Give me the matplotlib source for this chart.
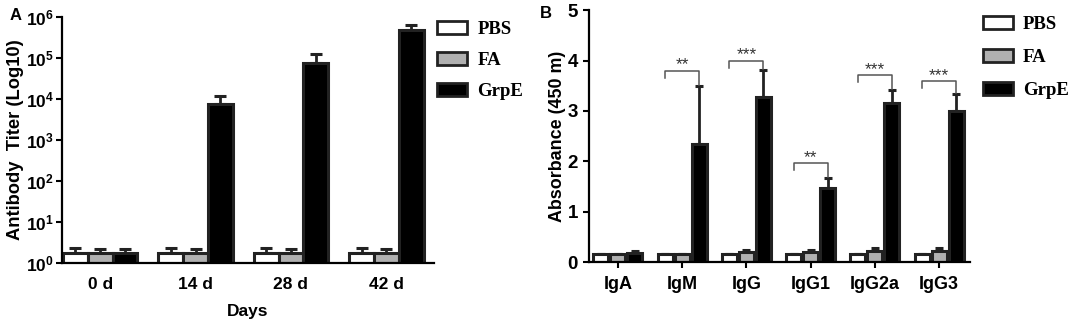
import numpy as np
import matplotlib
matplotlib.use("Agg")
import matplotlib.pyplot as plt
from matplotlib.patches import Patch

plt.rcParams['font.family'] = ['Liberation Sans', 'DejaVu Sans']
plt.rcParams['font.weight'] = 'bold'

groups = ['PBS', 'FA', 'GrpE']
colors = ['white', '#b0b0b0', 'black']

# Panel A
days = ['0 d', '14 d', '28 d', '42 d']
titer_pbs = [1.8, 1.8, 1.8, 1.8]
titer_pbs_err = [0.5, 0.5, 0.5, 0.5]
titer_fa = [1.8, 1.8, 1.8, 1.8]
titer_fa_err = [0.45, 0.45, 0.45, 0.45]
titer_grpe = [1.8, 7600, 74000, 480000]
titer_grpe_err = [0.45, 4300, 50000, 165000]

# Panel B
isotypes = ['IgA', 'IgM', 'IgG', 'IgG1', 'IgG2a', 'IgG3']
abs_pbs = [0.16, 0.16, 0.16, 0.16, 0.16, 0.16]
abs_pbs_err = [0.01, 0.01, 0.01, 0.01, 0.01, 0.01]
abs_fa = [0.16, 0.16, 0.2, 0.2, 0.22, 0.22]
abs_fa_err = [0.01, 0.01, 0.05, 0.05, 0.06, 0.06]
abs_grpe = [0.18, 2.35, 3.27, 1.48, 3.15, 3.0]
abs_grpe_err = [0.04, 1.15, 0.55, 0.19, 0.27, 0.33]
sig_labels = ['', '**', '***', '**', '***', '***']
sig_heights = [0, 3.8, 4.0, 1.97, 3.72, 3.6]

fig = plt.figure(figsize=(10.74, 3.26), dpi=100)

legend_prop = {'family': 'Liberation Serif', 'weight': 'bold', 'size': 13.5}
handles = [Patch(facecolor=c, edgecolor='#222222', linewidth=2) for c in colors]

# ---------- Panel A ----------
axA = fig.add_axes([0.0577, 0.193, 0.3464, 0.755])
xA = np.arange(len(days))
wA = 0.26
for i, (vals, errs) in enumerate([(titer_pbs, titer_pbs_err), (titer_fa, titer_fa_err), (titer_grpe, titer_grpe_err)]):
    pos = xA + (i - 1) * wA
    axA.bar(pos, vals, width=wA, color=colors[i], edgecolor='#222222', linewidth=2.2, zorder=2)
    axA.errorbar(pos, vals, yerr=[np.zeros(len(vals)), errs], fmt='none', ecolor='#222222',
                 elinewidth=2, capsize=4.5, capthick=2.2, zorder=1)
axA.set_yscale('log')
axA.set_ylim(1, 1e6)
axA.set_xlim(-0.4, 3.5)
axA.set_xticks(xA)
axA.set_xticklabels(days, fontsize=12.5, fontweight='bold')
axA.tick_params(axis='x', length=0, pad=10)
axA.set_yticks([10**k for k in range(7)])
axA.minorticks_off()
axA.tick_params(axis='y', which='major', length=4, width=1.5, labelsize=12.5, pad=2)
for lab in axA.get_yticklabels():
    lab.set_fontweight('bold')
axA.set_ylabel('Antibody  Titer (Log10)', fontsize=13.2, fontweight='bold', labelpad=1)
axA.set_xlabel('Days', fontsize=12.5, fontweight='bold', labelpad=9)
for s in ['top', 'right']:
    axA.spines[s].set_visible(False)
for s in ['left', 'bottom']:
    axA.spines[s].set_linewidth(1.6)
fig.text(0.009, 0.951, 'A', fontsize=12, fontweight='bold', va='center')

fig.legend(handles, groups, loc='upper left', bbox_to_anchor=(0.407, 0.935), frameon=False,
           prop=legend_prop, borderpad=0, borderaxespad=0,
           handlelength=1.6, handleheight=0.65, labelspacing=0.75, handletextpad=0.55)

# ---------- Panel B ----------
axB = fig.add_axes([0.5484, 0.196, 0.3547, 0.773])
xB = np.arange(len(isotypes))
wB = 0.235
off = 0.265
for i, (vals, errs) in enumerate([(abs_pbs, abs_pbs_err), (abs_fa, abs_fa_err), (abs_grpe, abs_grpe_err)]):
    pos = xB + (i - 1) * off
    axB.bar(pos, vals, width=wB, color=colors[i], edgecolor='#222222', linewidth=2.2, zorder=2)
    axB.errorbar(pos, vals, yerr=[np.zeros(len(vals)), errs], fmt='none', ecolor='#222222',
                 elinewidth=2, capsize=3, capthick=2.2, zorder=1)
for j, lab in enumerate(sig_labels):
    if not lab:
        continue
    x1 = xB[j] - off
    x2 = xB[j] + off
    h = sig_heights[j]
    top_err = abs_grpe[j] + abs_grpe_err[j]
    axB.plot([x1, x1, x2, x2], [h - 0.15, h, h, top_err + 0.02], color='#555555', lw=1.1)
    axB.text((x1 + x2) / 2, h - 0.04, lab, ha='center', va='bottom', fontsize=12.5,
             color='#333333', fontweight='normal')
axB.set_ylim(0, 5)
axB.set_xlim(-0.45, 5.48)
axB.set_xticks(xB)
axB.set_xticklabels(isotypes, fontsize=13, fontweight='bold')
axB.tick_params(axis='x', length=4, width=1.5, pad=6)
axB.set_yticks([0, 1, 2, 3, 4, 5])
axB.tick_params(axis='y', length=4, width=1.5, labelsize=13.5, pad=4)
for lab in axB.get_yticklabels():
    lab.set_fontweight('bold')
axB.set_ylabel('Absorbance (450 m)', fontsize=12.9, fontweight='bold', labelpad=1)
for s in ['top', 'right']:
    axB.spines[s].set_visible(False)
for s in ['left', 'bottom']:
    axB.spines[s].set_linewidth(1.6)
fig.text(0.503, 0.96, 'B', fontsize=12, fontweight='bold', va='center')

fig.legend(handles, groups, loc='upper left', bbox_to_anchor=(0.915, 0.951), frameon=False,
           prop=legend_prop, borderpad=0, borderaxespad=0,
           handlelength=1.6, handleheight=0.65, labelspacing=0.86, handletextpad=0.55)

fig.savefig('out.png', dpi=100)
